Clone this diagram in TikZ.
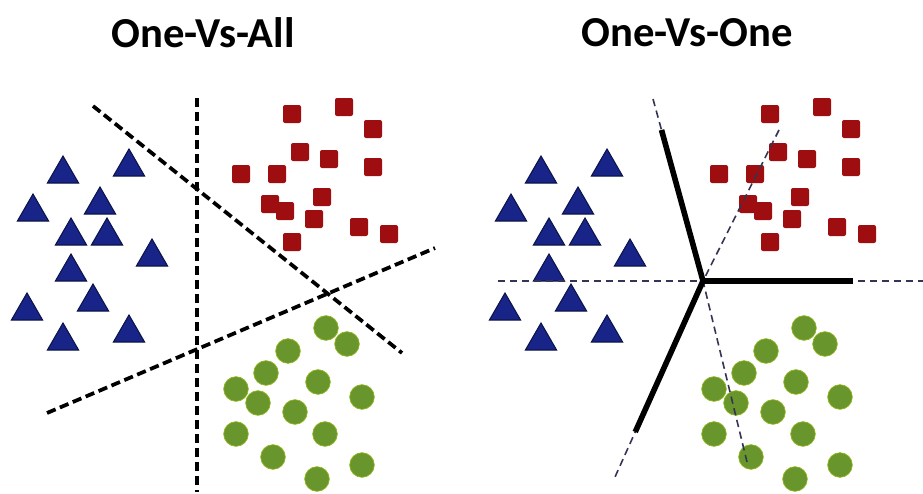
\documentclass[tikz,border=0pt]{standalone}
\usepackage{fontspec}
\setmainfont{Carlito}
\usetikzlibrary{shapes.geometric,calc}
\definecolor{triblue}{RGB}{24,36,135}
\definecolor{sqred}{RGB}{158,14,16}
\definecolor{dotgreen}{RGB}{104,150,44}
\definecolor{pairgray}{RGB}{52,52,84}
\begin{document}
\begin{tikzpicture}[x=0.75pt,y=-0.75pt]
	\tikzstyle{tri}=[regular polygon,regular polygon sides=3,minimum size=27pt,inner sep=0pt,fill=triblue,draw=triblue!55!black,line width=0.8pt]
	\tikzstyle{sq}=[rectangle,minimum size=13.5pt,inner sep=0pt,rounded corners=1.5pt,fill=sqred]
	\tikzstyle{dot}=[circle,minimum size=18.5pt,inner sep=0pt,fill=dotgreen,draw=dotgreen!70!yellow,line width=0.5pt]
	\tikzstyle{title}=[font=\fontsize{32}{36}\selectfont\bfseries]
	\tikzstyle{cut}=[line width=2.8pt,dash pattern=on 7pt off 3.5pt]
	\tikzstyle{pair}=[pairgray,line width=1.2pt,dash pattern=on 5.5pt off 3.5pt]
	\tikzstyle{vote}=[line width=4.2pt,line join=round]
	\useasboundingbox (0,0) rectangle (923,493);
	\node[title] (ova) at (203,33) {One-Vs-All};
	\node[title] (ovo) at (687,33) {One-Vs-One};
	% the same three classes in both panels
	\foreach \p/\dx in {a/0,b/478}{
		\foreach \x/\y [count=\i] in {63/170,129/163,33/208,100/201,71/232,107/232,152/253,71/268,93/298,27/307,63/337,129/329}
			\node[tri] (\p tri\i) at (\x+\dx,\y+4) {};
		\foreach \x/\y [count=\i] in {292/114,344/107,373/129,300/152,329/159,373/167,241/174,277/174,322/197,270/204,285/211,314/219,359/227,389/234,292/242}
			\node[sq] (\p sq\i) at (\x+\dx,\y) {};
		\foreach \x/\y [count=\i] in {326/328,347/344,288/351,266/373,318/382,236/389,362/397,258/403,295/412,236/434,325/434,273/457,362/465,317/479}
			\node[dot] (\p dot\i) at (\x+\dx,\y) {};
	}
	% one class against the rest
	\coordinate (vtop) at (197,98);
	\coordinate (vbot) at (197,492);
	\coordinate (dtop) at (93,106);
	\coordinate (dbot) at (402,353);
	\coordinate (rl) at (47,413);
	\coordinate (rr) at (435,248);
	\draw[cut] (vtop) -- (vbot);
	\draw[cut] (dtop) -- (dbot);
	\draw[cut] (rl) -- (rr);
	% pairwise boundaries and the voting regions
	\coordinate (ctr) at (703,281);
	\coordinate (hl) at (498,281);
	\coordinate (hr) at (923,281);
	\coordinate (ul) at (653,99);
	\coordinate (ll) at (615,477);
	\coordinate (ur) at (779,130);
	\coordinate (lr) at (747,462);
	\draw[pair] (hl) -- (hr);
	\draw[pair] (ul) -- (ctr) -- (ll);
	\draw[pair] (ur) -- (ctr) -- (lr);
	\draw[vote] ($(ctr)!0.83!(ul)$) -- (ctr) -- ($(ctr)!0.77!(ll)$);
	\draw[vote] (ctr) -- ($(ctr)!0.68!(hr)$);
\end{tikzpicture}
\end{document}
